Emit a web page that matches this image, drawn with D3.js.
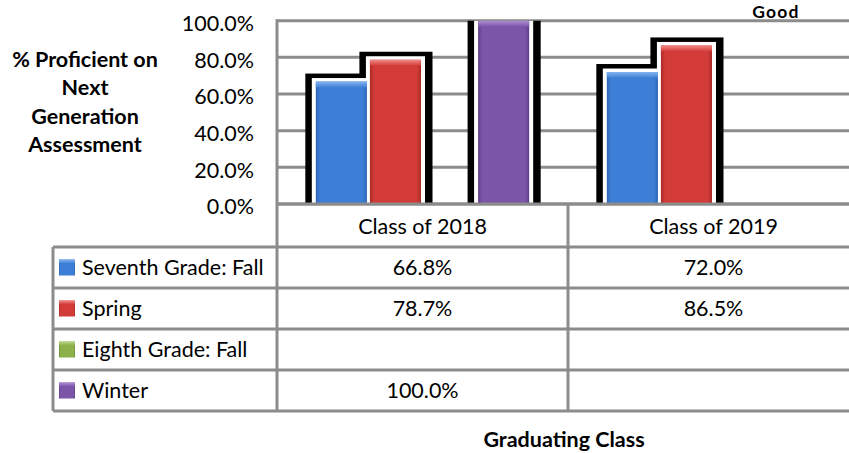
<!DOCTYPE html>
<html>
<head>
<meta charset="utf-8">
<script src="https://cdn.jsdelivr.net/npm/d3@7/dist/d3.min.js"></script>
<style>
  html, body { margin: 0; padding: 0; background: #ffffff; }
  svg { display: block; }
  text { font-family: "Lato", "Open Sans", sans-serif; fill: #000; }
</style>
</head>
<body>
<script>
// ---------------- data ----------------
const categories = ["Class of 2018", "Class of 2019"];
const seriesNames = ["Seventh Grade: Fall", "Spring", "Eighth Grade: Fall", "Winter"];
const seventhGradeFall = [0.668, 0.720];
const spring = [0.787, 0.865];
const eighthGradeFall = [null, null];
const winter = [1.000, null];
const yTickValues = [0, 0.2, 0.4, 0.6, 0.8, 1.0];
const yTitleLines = ["% Proficient on", "Next", "Generation", "Assessment"];
const xTitle = "Graduating Class";
const cornerText = "Good";
const seriesColors = ["#3d7fd6", "#d23b37", "#8db04b", "#7b56a8"];
const seriesLight = ["#86b4ef", "#f08a86", "#bcd788", "#ad8fd3"];
const seriesDark  = ["#2c64b4", "#a92a27", "#6b8a35", "#5d3d88"];

const seriesValues = [seventhGradeFall, spring, eighthGradeFall, winter];

// ---------------- layout ----------------
const W = 849, H = 453;
const plotLeft = 277, plotRight = 859, plotTop = 20.7, plotBottom = 204;
const legendLeft = 53;
const headerH = 43, rowH = 41;
const gridColor = "#8c8c8c";
const fontSize = 21.5;

const svg = d3.select("body").append("svg")
  .attr("width", W).attr("height", H);

const defs = svg.append("defs");
seriesColors.forEach((c, i) => {
  const g = defs.append("linearGradient").attr("id", "grad" + i)
    .attr("x1", "0%").attr("x2", "100%").attr("y1", "0%").attr("y2", "0%");
  g.append("stop").attr("offset", "0%").attr("stop-color", seriesDark[i]);
  g.append("stop").attr("offset", "8%").attr("stop-color", c);
  g.append("stop").attr("offset", "92%").attr("stop-color", c);
  g.append("stop").attr("offset", "100%").attr("stop-color", seriesDark[i]);
  const t = defs.append("linearGradient").attr("id", "top" + i)
    .attr("x1", "0%").attr("x2", "0%").attr("y1", "0%").attr("y2", "100%");
  t.append("stop").attr("offset", "0%").attr("stop-color", seriesLight[i]);
  t.append("stop").attr("offset", "100%").attr("stop-color", c);
});
defs.append("clipPath").attr("id", "plotClip")
  .append("rect").attr("x", plotLeft).attr("y", plotTop)
  .attr("width", W - plotLeft).attr("height", plotBottom - plotTop);

// scales
const y = d3.scaleLinear().domain([0, 1]).range([plotBottom, plotTop]);
const x = d3.scaleBand().domain(categories).range([plotLeft, plotRight]).padding(0);
const xs = d3.scaleBand().domain(seriesNames).range([0, x.bandwidth()])
  .paddingInner(0).paddingOuter(0.69);

// gridlines
svg.append("g").selectAll("line").data(yTickValues).join("line")
  .attr("x1", plotLeft).attr("x2", W)
  .attr("y1", d => y(d)).attr("y2", d => y(d))
  .attr("stroke", gridColor).attr("stroke-width", 3);

// y axis labels
const yAxis = d3.axisLeft(y).tickValues(yTickValues).tickFormat(d3.format(".1%")).tickSize(0).tickPadding(0);
const yg = svg.append("g").attr("transform", `translate(254,3)`).call(yAxis);
yg.select(".domain").remove();
yg.selectAll("text").attr("font-family", "Lato").attr("font-size", fontSize).attr("fill", "#000");

// bars data
const bars = [];
categories.forEach((cat, ci) => {
  seriesNames.forEach((s, si) => {
    const v = seriesValues[si][ci];
    if (v != null) bars.push({cat, s, si, v});
  });
});

const barG = svg.append("g").attr("clip-path", "url(#plotClip)");
// black halo
barG.selectAll("rect.halo").data(bars).join("rect").attr("class", "halo")
  .attr("x", d => x(d.cat) + xs(d.s) - 9)
  .attr("width", xs.bandwidth() + 19)
  .attr("y", d => y(d.v) - 8)
  .attr("height", d => plotBottom - y(d.v) + 8)
  .attr("fill", "#000");
// white rim
barG.selectAll("rect.rim").data(bars).join("rect").attr("class", "rim")
  .attr("x", d => x(d.cat) + xs(d.s) - 2.5)
  .attr("width", xs.bandwidth() + 5)
  .attr("y", d => y(d.v) - 3.5)
  .attr("height", d => plotBottom - y(d.v) + 3.5)
  .attr("fill", "#fff");
// colored bars
barG.selectAll("rect.bar").data(bars).join("rect").attr("class", "bar")
  .attr("x", d => x(d.cat) + xs(d.s) + 1.5)
  .attr("width", xs.bandwidth() - 3)
  .attr("y", d => y(d.v))
  .attr("height", d => plotBottom - y(d.v))
  .attr("fill", d => `url(#grad${d.si})`);
// top bevel
barG.selectAll("rect.bevel").data(bars).join("rect").attr("class", "bevel")
  .attr("x", d => x(d.cat) + xs(d.s) + 1.5)
  .attr("width", xs.bandwidth() - 3)
  .attr("y", d => y(d.v))
  .attr("height", 6)
  .attr("fill", d => `url(#top${d.si})`);

// ---------------- data table ----------------
const tableTop = plotBottom;
const rowTops = seriesNames.map((s, i) => tableTop + headerH + i * rowH);
const tableBottom = tableTop + headerH + seriesNames.length * rowH;
const lines = svg.append("g").attr("stroke", gridColor).attr("stroke-width", 3);
// horizontal lines
lines.append("line").attr("x1", plotLeft).attr("x2", W).attr("y1", tableTop).attr("y2", tableTop);
[...rowTops, tableBottom].forEach(yy => {
  lines.append("line").attr("x1", legendLeft).attr("x2", W).attr("y1", yy).attr("y2", yy);
});
// vertical lines
lines.append("line").attr("x1", legendLeft).attr("x2", legendLeft).attr("y1", rowTops[0]).attr("y2", tableBottom);
lines.append("line").attr("x1", plotLeft).attr("x2", plotLeft).attr("y1", plotTop - 1.5).attr("y2", tableBottom);
categories.slice(1).forEach(c => {
  lines.append("line").attr("x1", x(c)).attr("x2", x(c)).attr("y1", tableTop).attr("y2", tableBottom);
});

// header labels
svg.append("g").selectAll("text").data(categories).join("text")
  .attr("x", d => x(d) + x.bandwidth() / 2)
  .attr("y", tableTop + headerH / 2 + 8)
  .attr("text-anchor", "middle")
  .attr("font-size", fontSize)
  .text(d => d);

// values
const fmt = d3.format(".1%");
seriesNames.forEach((s, si) => {
  categories.forEach((c, ci) => {
    const v = seriesValues[si][ci];
    if (v == null) return;
    svg.append("text")
      .attr("x", x(c) + x.bandwidth() / 2)
      .attr("y", rowTops[si] + rowH / 2 + 7.5)
      .attr("text-anchor", "middle")
      .attr("font-size", fontSize)
      .text(fmt(v));
  });
});

// legend keys + names
const leg = svg.append("g");
seriesNames.forEach((s, si) => {
  const cy = rowTops[si] + rowH / 2;
  leg.append("rect").attr("x", 59).attr("y", cy - 8).attr("width", 16).attr("height", 16)
    .attr("fill", `url(#grad${si})`);
  leg.append("rect").attr("x", 59).attr("y", cy - 8).attr("width", 16).attr("height", 4)
    .attr("fill", `url(#top${si})`);
  leg.append("text").attr("x", 82).attr("y", cy + 7.5)
    .attr("font-size", fontSize).text(s);
});

// y title
svg.append("text").attr("text-anchor", "middle").attr("font-weight", "bold")
  .attr("font-size", fontSize)
  .selectAll("tspan").data(yTitleLines).join("tspan")
  .attr("x", 85).attr("y", (d, i) => 66.5 + i * 28.5).text(d => d);

// x title
svg.append("text").attr("x", 564).attr("y", 447).attr("text-anchor", "middle")
  .attr("font-weight", "bold").attr("font-size", fontSize).text(xTitle);

// corner text
svg.append("text").attr("x", 776).attr("y", 18).attr("text-anchor", "middle")
  .attr("font-weight", "bold").attr("font-size", 17.5)
  .attr("letter-spacing", 1.2).text(cornerText);
</script>
</body>
</html>
